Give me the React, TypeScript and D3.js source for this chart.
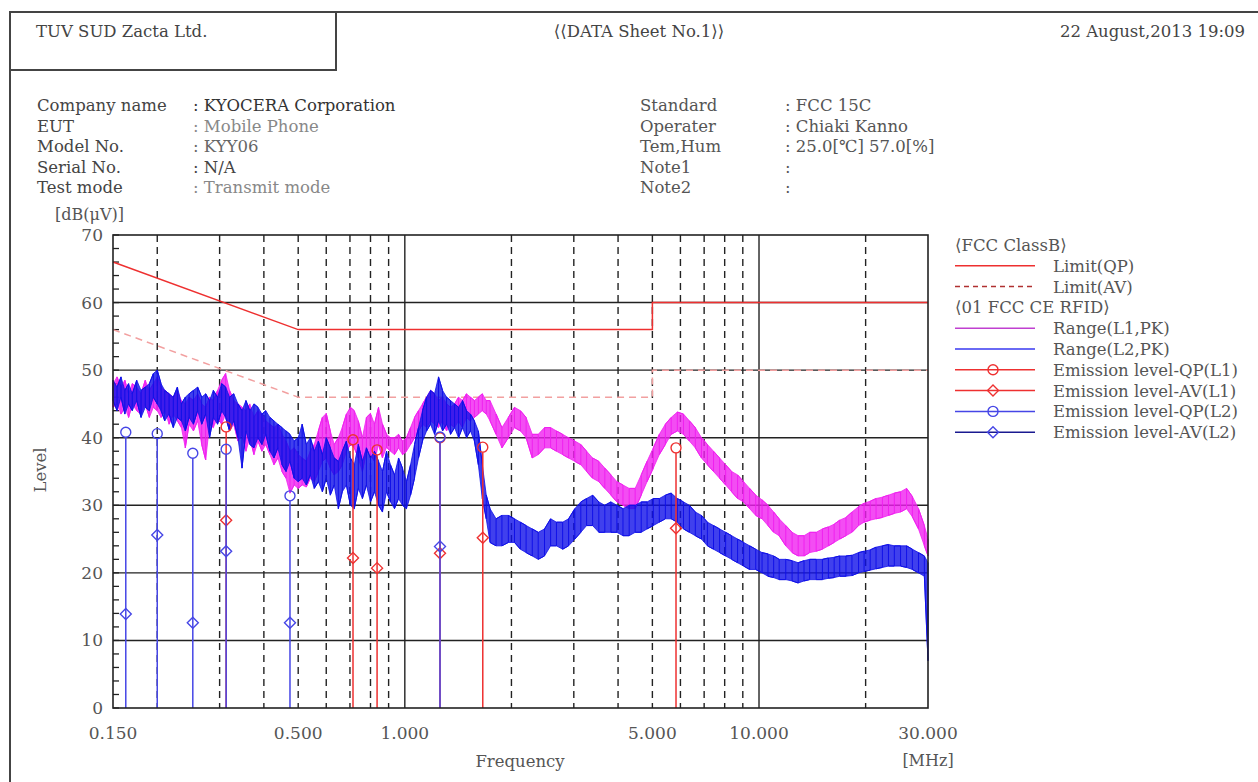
import React from 'react';
import * as d3 from 'd3';

// ---------- data ----------
const FREQS = [
  0.150, 0.154, 0.158, 0.162, 0.166, 0.170, 0.175, 0.180, 0.185, 0.190,
  0.195, 0.200, 0.205, 0.210, 0.216, 0.222, 0.228, 0.234, 0.240, 0.246,
  0.253, 0.260, 0.267, 0.274, 0.281, 0.288, 0.296, 0.304, 0.312, 0.320,
  0.329, 0.338, 0.347, 0.356, 0.365, 0.375, 0.385, 0.395, 0.405, 0.416,
  0.427, 0.438, 0.450, 0.462, 0.474, 0.487, 0.500, 0.513, 0.527, 0.541,
  0.555, 0.570, 0.585, 0.600, 0.616, 0.632, 0.649, 0.666, 0.684, 0.702,
  0.720, 0.739, 0.759, 0.779, 0.800, 0.821, 0.843, 0.865, 0.888, 0.911,
  0.935, 0.960, 0.985, 1.011, 1.038, 1.065, 1.093, 1.122, 1.152, 1.182,
  1.213, 1.245, 1.278, 1.312, 1.346, 1.382, 1.418, 1.455, 1.493, 1.532,
  1.572, 1.613, 1.655, 1.698,
  1.74, 1.81, 1.88, 1.96, 2.04, 2.12, 2.20, 2.29, 2.38, 2.48,
  2.58, 2.68, 2.79, 2.90, 3.02, 3.14, 3.26, 3.39, 3.53, 3.67,
  3.82, 3.97, 4.13, 4.30, 4.47, 4.65, 4.83, 5.03, 5.23, 5.44,
  5.65, 5.88, 6.12, 6.36, 6.61, 6.88, 7.15, 7.44, 7.74, 8.05,
  8.37, 8.70, 9.05, 9.41, 9.79, 10.2, 10.6, 11.0, 11.4, 11.9,
  12.4, 12.9, 13.4, 13.9, 14.5, 15.1, 15.7, 16.3, 16.9, 17.6,
  18.3, 19.1, 19.8, 20.6, 21.4, 22.3, 23.2, 24.1, 25.1, 26.1,
  27.1, 28.2, 29.3, 30.0,
];

// Range(L1,PK) – band low / high edges [dBuV]
const L1_LO = [
  44.5, 45, 43.5, 44.5, 43, 45, 44, 43.5, 45, 43,
  44.5, 44, 43, 44, 42, 43.5, 42.5, 41.5, 38.5, 42,
  41, 42.5, 39, 36.7, 42, 41.5, 43, 42, 43.5, 41,
  42, 39.5, 40.5, 38, 40, 37.5, 39.5, 38, 39, 37.5,
  36, 37, 35, 34, 31.8, 33, 32.5, 33, 32.7, 34,
  33.5, 35, 36.5, 37, 35.5, 34.5, 35, 36, 38, 39,
  38.5, 37, 35, 38, 37.5, 36.5, 39, 37, 38.6, 38,
  37.5, 38.5, 37.5, 38, 39, 40, 41, 42, 41.5, 42.5,
  42, 41.5, 42.5, 41, 42, 41.5, 42.5, 41.5, 43, 42.5,
  43, 43.5, 44, 43.5,
  42.5, 40.5, 38.5, 40, 41.5, 41, 40, 37, 37.5, 38.5,
  38.5, 38, 37.5, 37, 36.5, 36, 35, 34, 33.5, 32.5,
  31.5, 30.5, 30, 29.5, 29.5, 31.5, 33.5, 35.5, 37.5, 39,
  40.5, 41, 40.5, 39.5, 38.5, 37, 36, 35, 34, 33,
  32, 31, 30.5, 29.5, 28.5, 28, 27, 26, 25.5, 24,
  23, 22.5, 22.5, 23, 23.2, 23.5, 24, 24.5, 25, 25.5,
  26, 27, 27.5, 27.8, 28, 28.2, 28.5, 28.8, 29, 29.5,
  28.3, 26.5, 24, 22.5,
];
const L1_HI = [
  48, 49, 47.5, 48.5, 46.5, 48, 47.5, 46.5, 48.5, 47,
  48, 49, 47.5, 47, 46.5, 46, 47, 45.5, 45, 46,
  45.5, 46.5, 45, 44.5, 46, 45.5, 47, 48.5, 49.5, 47,
  45.5, 45, 44.5, 44, 45, 43, 44, 43.5, 42.5, 42,
  41.5, 42, 40.5, 39.5, 38, 38.5, 37.5, 37, 36.5, 38,
  39, 41, 43, 43.6, 41, 39, 40, 41.5, 43.5, 44.5,
  44, 42.5, 40, 43, 43.6, 42, 44.5, 42, 40.5, 40,
  40, 40.5, 39.5, 40, 41.5, 43, 44, 45, 46, 47,
  46.5, 45.5, 46, 45, 44.5, 45, 46, 45.5, 46.5, 46,
  45.5, 46, 46.5, 45.5,
  45.5, 43.5, 41.5, 43, 44.5, 44, 43, 40.5, 40.5, 41.5,
  41.5, 41, 40.5, 40, 39.5, 39, 38, 37, 36.5, 35.5,
  34.5, 33.5, 33, 32.5, 32.5, 34.5, 36.5, 38.5, 40.5, 42,
  43, 43.8, 43.5, 42.5, 41.5, 40, 39, 38, 37, 36,
  35, 34.5, 33.5, 32.5, 31.5, 30.8, 30, 29, 28, 27,
  26, 25.5, 25.5, 26, 26, 26.5, 26.8, 27.2, 27.8, 28.2,
  29, 29.8, 30.3, 30.6, 31, 31.2, 31.5, 31.8, 32, 32.5,
  31.3, 29.5, 27, 25,
];

// Range(L2,PK)
const L2_LO = [
  45.5, 44, 46, 43.5, 45, 44, 45.5, 43, 44.5, 44,
  46, 45, 44, 42.5, 43.5, 41.5, 43, 42.5, 41, 43,
  42, 44, 42, 43.5, 40, 43, 42, 44, 43, 41,
  42.5, 40, 35.5, 41, 39, 38.5, 40, 39, 40.5, 38,
  37, 38.5, 36, 35, 36.5, 34, 33.5, 34, 33, 34.5,
  32.5, 33.5, 32, 34, 31.5, 33, 29.5, 32, 33, 30,
  29.5, 32.5, 31, 33, 30.5, 32, 30, 29, 32, 30.5,
  29.5, 31, 30, 29.5, 31.5, 34, 37, 39.5, 41, 42,
  40.5, 42.5, 41, 42, 40.5, 41.5, 40, 41.5, 40, 41,
  39.5, 36, 31, 28,
  24.5, 24, 24, 24.5, 24.5, 23.5, 23, 22.5, 22, 22.5,
  24, 24, 23.5, 24, 25, 26, 27, 27, 26, 26,
  26, 26, 25.5, 25.5, 26, 26, 26.5, 27, 27.5, 28,
  28, 27.5, 26.5, 26, 25.5, 25, 24, 23.5, 23, 22.5,
  22, 21.5, 21, 20.5, 20.5, 20, 19.5, 19.3, 19, 19,
  18.8, 18.5, 18.8, 19, 19, 19, 19.2, 19.3, 19.5, 19.5,
  19.6, 20, 20.2, 20.4, 20.6, 20.8, 21, 21, 21, 20.8,
  20.5, 20, 19.5, 7,
];
const L2_HI = [
  48.5, 47.5, 49, 47, 48, 46.5, 48.5, 47, 47.5, 48,
  49.5, 50, 48, 47, 46.5, 46, 47.5, 45, 46, 46.5,
  47, 47.5, 46, 46.5, 45.5, 47, 46, 48, 47.5, 46,
  46.5, 45, 44, 45.5, 44, 45, 44.5, 43.5, 44, 43,
  42.5, 42, 41.5, 41, 40.5, 39.5, 40, 42, 39, 40,
  38, 39.5, 37.5, 40, 38.5, 37, 36.5, 38, 39.5, 37,
  36, 39, 36.5, 38.5, 37, 38, 36.5, 35, 38, 36,
  34.5, 37, 35.5, 33.5, 36, 39, 41.5, 44, 46, 47,
  46.5, 49, 47, 46, 45.5, 45, 44.5, 45.5, 44, 43.5,
  42.5, 41, 36, 31.5,
  29.5, 28, 28.5, 28.5, 28, 27.5, 27, 26.5, 26, 26.5,
  28, 27.5, 27.5, 28, 29.5, 30.5, 31, 31.5, 30.5, 30,
  30.5, 30, 29.5, 30, 30, 30.5, 30.5, 31, 31, 31.5,
  31.8, 31, 30.5, 30, 29, 28.5, 27.5, 27, 26.5, 26,
  25.5, 25, 24.5, 24, 23.5, 23, 22.8, 22.5, 22, 22,
  21.8, 21.5, 21.8, 22, 22, 22, 22.2, 22.3, 22.5, 22.5,
  22.6, 23, 23.2, 23.4, 23.8, 24, 24.2, 24, 24, 24,
  23.5, 23, 22.5, 21.5,
];

// FCC Class B limits
const LIMIT_FREQS = [0.15, 0.5, 5, 5, 30];
const LIMIT_QP = [66, 56, 56, 60, 60];
const LIMIT_AV = [56, 46, 46, 50, 50];

// Emission levels (final measurements)
const L1_FREQS = [0.313, 0.714, 0.835, 1.257, 1.66, 5.83];
const L1_QP = [41.6, 39.7, 38.2, 40.0, 38.6, 38.5];
const L1_AV = [27.8, 22.2, 20.7, 22.9, 25.2, 26.6];
const L2_FREQS = [0.163, 0.2, 0.252, 0.313, 0.474, 1.257];
const L2_QP = [40.8, 40.6, 37.7, 38.3, 31.4, 40.1];
const L2_AV = [13.9, 25.6, 12.6, 23.2, 12.6, 23.9];

// axes
const Y_TICKS = [0, 10, 20, 30, 40, 50, 60, 70];
const X_TICKS = [0.15, 0.5, 1, 5, 10, 30];
const X_TICK_LABELS = ['0.150', '0.500', '1.000', '5.000', '10.000', '30.000'];
const X_GRID_SOLID = [1, 10];
const X_GRID_DASHED = [0.2, 0.3, 0.4, 0.5, 0.6, 0.7, 0.8, 0.9, 2, 3, 4, 5, 6, 7, 8, 9, 20];

const INFO_LEFT = [
  ['Company name', ': KYOCERA Corporation', '#333'],
  ['EUT', ': Mobile Phone', '#888'],
  ['Model No.', ': KYY06', '#666'],
  ['Serial No.', ': N/A', '#444'],
  ['Test mode', ': Transmit mode', '#888'],
];
const INFO_RIGHT = [
  ['Standard', ': FCC 15C'],
  ['Operater', ': Chiaki Kanno'],
  ['Tem,Hum', ': 25.0[\u2103] 57.0[%]'],
  ['Note1', ':'],
  ['Note2', ':'],
];

const RED = '#ee3030';
const PINK = '#f2a0a0';
const MAGENTA = '#f020f0';
const BLUE = '#1010e8';
const MBLUE = '#4646e6';
const FONT = '"DejaVu Serif", "Liberation Serif", serif';

export default function App() {
  const x = d3.scaleLog().domain([0.15, 30]).range([113, 928]);
  const y = d3.scaleLinear().domain([0, 70]).range([708, 235]);
  const [x0, x1] = x.range();
  const [yb, yt] = y.range();

  const zig = (lo: number[], hi: number[]) => {
    const pts: [number, number][] = [];
    FREQS.forEach((f, i) => {
      if (i % 2 === 0) { pts.push([f, hi[i]]); pts.push([f, lo[i]]); }
      else { pts.push([f, lo[i]]); pts.push([f, hi[i]]); }
    });
    return d3.line<[number, number]>().x(d => x(d[0])).y(d => y(d[1]))(pts) || '';
  };
  const band = (lo: number[], hi: number[]) =>
    d3.area<number>().x(d => x(d)).y0((d, i) => y(lo[i])).y1((d, i) => y(hi[i]))(FREQS) || '';

  const limitLine = (vals: number[]) =>
    d3.line<number>().x(d => x(d)).y((d, i) => y(vals[i]))(LIMIT_FREQS) || '';

  const circle = (cx: number, cy: number, color: string, key: string) => (
    <circle key={key} cx={cx} cy={cy} r={5} fill="none" stroke={color} strokeWidth={1.4} />
  );
  const diamond = (cx: number, cy: number, color: string, key: string) => (
    <path key={key} d={`M${cx},${cy - 5.5}L${cx + 5.5},${cy}L${cx},${cy + 5.5}L${cx - 5.5},${cy}Z`}
      fill="none" stroke={color} strokeWidth={1.4} />
  );

  const emission = (freqs: number[], qp: number[], av: number[], color: string, id: string) => (
    <g>
      {freqs.map((f, i) => (
        <line key={id + 's' + i} x1={x(f)} x2={x(f)} y1={yb} y2={y(qp[i]) + 5}
          stroke={color} strokeWidth={1.5} />
      ))}
      {freqs.map((f, i) => circle(x(f), y(qp[i]), color, id + 'c' + i))}
      {freqs.map((f, i) => diamond(x(f), y(av[i]), color, id + 'd' + i))}
    </g>
  );

  const legendRows = [
    { label: '\u27E8FCC ClassB\u27E9', header: true },
    { label: 'Limit(QP)', color: RED },
    { label: 'Limit(AV)', color: '#b03030', dash: '5,4' },
    { label: '\u27E801 FCC CE RFID\u27E9', header: true },
    { label: 'Range(L1,PK)', color: '#c040d0' },
    { label: 'Range(L2,PK)', color: '#3838f0' },
    { label: 'Emission level-QP(L1)', color: RED, marker: 'c' },
    { label: 'Emission level-AV(L1)', color: RED, marker: 'd' },
    { label: 'Emission level-QP(L2)', color: MBLUE, marker: 'c' },
    { label: 'Emission level-AV(L2)', color: '#1a1a90', mcolor: MBLUE, marker: 'd' },
  ];

  const yMinor = d3.range(0, 71, 2);

  return (
    <svg width={1258} height={782} style={{ position: 'absolute', left: 0, top: 0, background: '#fff' }}
      fontFamily={FONT}>
      <rect x={0} y={0} width={1258} height={782} fill="#fff" />
      {/* page frame */}
      <line x1={10} x2={1258} y1={12} y2={12} stroke="#444" strokeWidth={2} />
      <line x1={10} x2={10} y1={12} y2={782} stroke="#444" strokeWidth={2} />
      <rect x={10} y={12} width={326} height={58} fill="none" stroke="#444" strokeWidth={2} />
      <text x={36} y={37} fontSize={16.5} fill="#444">TUV SUD Zacta Ltd.</text>
      <text x={639} y={37} fontSize={16.5} fill="#444" textAnchor="middle">{'\u27E8\u27E8DATA Sheet No.1\u27E9\u27E9'}</text>
      <text x={1245} y={37} fontSize={16.5} fill="#444" textAnchor="end">22 August,2013 19:09</text>

      {/* info block */}
      {INFO_LEFT.map((r, i) => (
        <g key={'il' + i}>
          <text x={37} y={111 + i * 20.5} fontSize={16.5} fill="#444">{r[0]}</text>
          <text x={193} y={111 + i * 20.5} fontSize={16.5} fill={r[2]}>{r[1]}</text>
        </g>
      ))}
      {INFO_RIGHT.map((r, i) => (
        <g key={'ir' + i}>
          <text x={640} y={111 + i * 20.5} fontSize={16.5} fill="#555">{r[0]}</text>
          <text x={785} y={111 + i * 20.5} fontSize={16.5} fill="#555">{r[1]}</text>
        </g>
      ))}
      <text x={55} y={220} fontSize={16} fill="#555">[dB(&#956;V)]</text>

      {/* grid */}
      {Y_TICKS.filter(t => t > 0 && t < 70).map(t => (
        <line key={'hy' + t} x1={x0} x2={x1} y1={y(t)} y2={y(t)} stroke="#222" strokeWidth={1.4} />
      ))}
      {X_GRID_DASHED.map(f => (
        <line key={'dx' + f} x1={x(f)} x2={x(f)} y1={yt} y2={yb} stroke="#222" strokeWidth={1.4}
          strokeDasharray="7,5" />
      ))}
      {X_GRID_SOLID.map(f => (
        <line key={'sx' + f} x1={x(f)} x2={x(f)} y1={yt} y2={yb} stroke="#222" strokeWidth={1.4} />
      ))}
      {yMinor.map(t => (
        <line key={'mt' + t} x1={x0} x2={x0 + 6} y1={y(t)} y2={y(t)} stroke="#222" strokeWidth={1.3} />
      ))}

      {/* limits */}
      <path d={limitLine(LIMIT_QP)} fill="none" stroke={RED} strokeWidth={1.5} />
      <path d={limitLine(LIMIT_AV)} fill="none" stroke={PINK} strokeWidth={1.5} strokeDasharray="7,5" />

      {/* traces */}
      <path d={band(L1_LO, L1_HI)} fill={MAGENTA} fillOpacity={0.8} stroke={MAGENTA} strokeWidth={0.8} />
      <path d={zig(L1_LO, L1_HI)} fill="none" stroke={MAGENTA} strokeWidth={1} />
      <path d={band(L2_LO, L2_HI)} fill={BLUE} fillOpacity={0.8} stroke={BLUE} strokeWidth={0.8} />
      <path d={zig(L2_LO, L2_HI)} fill="none" stroke={BLUE} strokeWidth={1} />

      {/* emission markers */}
      {emission(L1_FREQS, L1_QP, L1_AV, RED, 'l1')}
      {emission(L2_FREQS, L2_QP, L2_AV, MBLUE, 'l2')}

      {/* frame */}
      <rect x={x0} y={yt} width={x1 - x0} height={yb - yt} fill="none" stroke="#222" strokeWidth={1.6} />

      {/* y labels */}
      {Y_TICKS.map(t => (
        <text key={'yl' + t} x={103} y={y(t) + 6} fontSize={17} fill="#555" textAnchor="end">{t}</text>
      ))}
      {X_TICKS.map((f, i) => (
        <text key={'xl' + f} x={x(f)} y={739} fontSize={17} fill="#555" textAnchor="middle">{X_TICK_LABELS[i]}</text>
      ))}
      <text x={520} y={767} fontSize={16.5} fill="#555" textAnchor="middle">Frequency</text>
      <text x={928} y={766} fontSize={16} fill="#555" textAnchor="middle">[MHz]</text>
      <text transform="translate(46,470) rotate(-90)" fontSize={16.5} fill="#555" textAnchor="middle">Level</text>

      {/* legend */}
      {legendRows.map((r, i) => {
        const cy = 245 + i * 20.8;
        if (r.header) {
          return <text key={'lg' + i} x={955} y={cy + 6} fontSize={16.5} fill="#555">{r.label}</text>;
        }
        return (
          <g key={'lg' + i}>
            <line x1={955} x2={1035} y1={cy} y2={cy} stroke={r.color} strokeWidth={1.5}
              strokeDasharray={r.dash} />
            {r.marker === 'c' && circle(993, cy, r.mcolor || r.color!, 'lc' + i)}
            {r.marker === 'd' && diamond(993, cy, r.mcolor || r.color!, 'ld' + i)}
            <text x={1053} y={cy + 6} fontSize={16.5} fill="#555">{r.label}</text>
          </g>
        );
      })}
    </svg>
  );
}
